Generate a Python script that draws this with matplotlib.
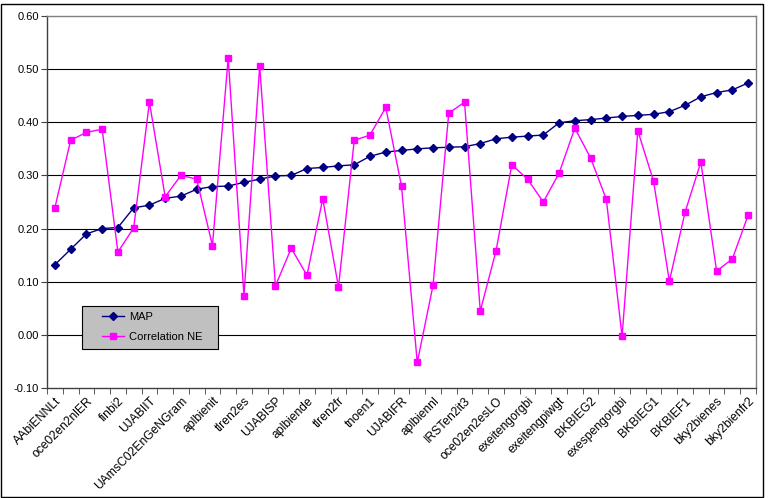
import matplotlib
matplotlib.use("Agg")
import matplotlib.pyplot as plt
from matplotlib.patches import Rectangle
from matplotlib.legend_handler import HandlerLine2D
import numpy as np

plt.rcParams['font.family'] = ['Liberation Sans', 'DejaVu Sans']

labels = ["AAbiENNLt", "oce02en2nlER", "finbi2", "UJABIIT", "UAmsC02EnGeNGram",
          "aplbienit", "tlren2es", "UJABISP", "aplbiende", "tlren2fr", "tnoen1",
          "UJABIFR", "aplbiennl", "IRSTen2it3", "oce02en2esLO", "exeitengorgbi",
          "exeitengpiwgt", "BKBIEG2", "exespengorgbi", "BKBIEG1", "BKBIEF1",
          "bky2bienes", "bky2bienfr2"]

map_vals = [0.132, 0.161, 0.190, 0.200, 0.202, 0.239, 0.244, 0.257, 0.261, 0.274,
            0.279, 0.280, 0.287, 0.293, 0.299, 0.300, 0.313, 0.315, 0.318, 0.320,
            0.336, 0.344, 0.347, 0.350, 0.352, 0.353, 0.354, 0.360, 0.369, 0.372,
            0.374, 0.376, 0.399, 0.403, 0.405, 0.408, 0.411, 0.413, 0.415, 0.420,
            0.432, 0.448, 0.456, 0.461, 0.474]

corr_ne = [0.239, 0.366, 0.381, 0.387, 0.156, 0.201, 0.438, 0.260, 0.300, 0.293,
           0.168, 0.521, 0.074, 0.506, 0.092, 0.163, 0.112, 0.256, 0.090, 0.366,
           0.376, 0.428, 0.280, -0.052, 0.093, 0.417, 0.438, 0.045, 0.158, 0.320,
           0.293, 0.250, 0.304, 0.389, 0.333, 0.255, -0.003, 0.384, 0.289, 0.101,
           0.231, 0.325, 0.120, 0.143, 0.225]

yticks = [-0.10, 0.00, 0.10, 0.20, 0.30, 0.40, 0.50, 0.60]

fig = plt.figure(figsize=(7.7, 4.98), dpi=100)
ax = fig.add_axes([47/770, 1-388/498, (756-47)/770, (388-16)/498])

n = len(map_vals)
x = np.arange(n)
l1, = ax.plot(x, map_vals, color='#000080', marker='D', markersize=4.5, linewidth=1.0, label='MAP')
l2, = ax.plot(x, corr_ne, color='#FF00FF', marker='s', markersize=5, linewidth=1.0, label='Correlation NE')

ax.set_xlim(-0.5, n - 0.5)
ax.set_ylim(-0.10, 0.60)
ax.set_yticks(yticks)
ax.set_yticklabels([f"{v:.2f}" for v in yticks], fontsize=8)
for v in yticks[1:-1]:
    ax.axhline(v, color='black', linewidth=0.8, zorder=0)

ax.set_xticks(x[::2])
ax.set_xticklabels(labels, rotation=45, ha='right', rotation_mode='anchor', fontsize=8.7)
ax.tick_params(axis='x', which='major', length=0, pad=5)
ax.set_xticks(np.arange(n + 1) - 0.5, minor=True)
ax.tick_params(axis='x', which='minor', length=4, color='#404040')
ax.tick_params(axis='y', length=4, color='#404040', pad=2)

for side in ['top', 'right']:
    ax.spines[side].set_color('#808080')
    ax.spines[side].set_linewidth(1.0)
for side in ['left', 'bottom']:
    ax.spines[side].set_color('#404040')
    ax.spines[side].set_linewidth(1.0)

hmap = {l1: HandlerLine2D(xpad=1.2), l2: HandlerLine2D(xpad=1.2)}
leg = ax.legend(handles=[l1, l2], labels=['MAP', 'Correlation NE   '],
                handler_map=hmap,
                loc='lower left', bbox_to_anchor=((82-47)/709, (388-349)/372),
                fontsize=8, frameon=True, fancybox=False, facecolor='#C0C0C0',
                edgecolor='black', framealpha=1.0, borderpad=0.6, handlelength=3.2,
                handletextpad=0.4, labelspacing=0.9, borderaxespad=0)
leg.get_frame().set_linewidth(0.8)

fig.patches.append(Rectangle((1/770, 1/498), 762/770, 493/498, transform=fig.transFigure,
                             fill=False, edgecolor='black', linewidth=1.0))

fig.savefig('out.png', dpi=100)
